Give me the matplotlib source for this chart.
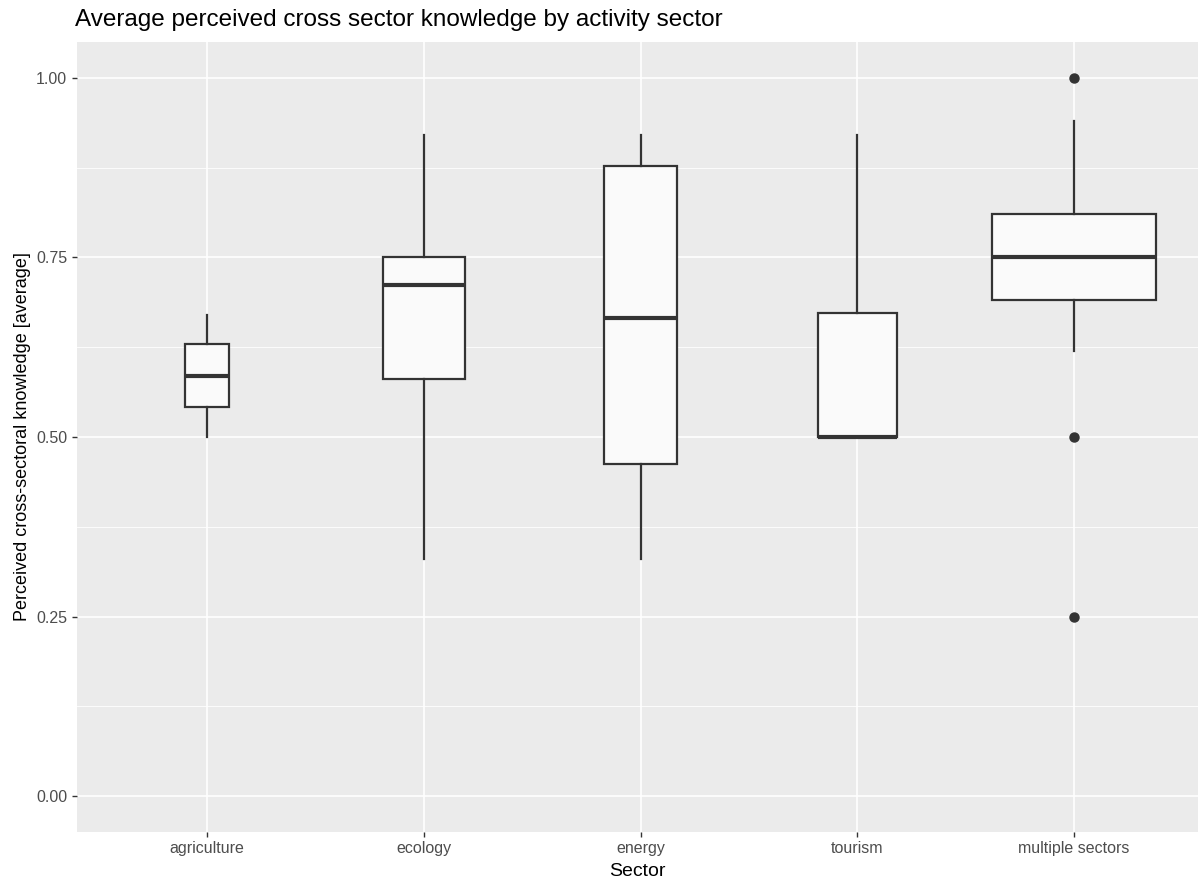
import matplotlib
matplotlib.use("Agg")
import matplotlib.pyplot as plt
from matplotlib.ticker import MultipleLocator

plt.rcParams['font.family'] = ['Liberation Sans', 'DejaVu Sans']

sectors = ["agriculture", "ecology", "energy", "tourism", "multiple sectors"]
q1 = [0.542, 0.581, 0.462, 0.500, 0.691]
med = [0.585, 0.711, 0.666, 0.500, 0.751]
q3 = [0.630, 0.751, 0.878, 0.672, 0.811]
whis_lo = [0.50, 0.33, 0.33, 0.50, 0.62]
whis_hi = [0.67, 0.92, 0.92, 0.92, 0.94]
outliers = [[], [], [], [], [1.00, 0.50, 0.25]]
box_widths = [0.203, 0.378, 0.336, 0.364, 0.756]

fig = plt.figure(figsize=(11.98, 8.81), dpi=100)
ax = fig.add_axes([77/1198, (881-832)/881, (1198-77)/1198, (832-42)/881])
ax.set_facecolor("#EBEBEB")

stats = []
for i, s in enumerate(sectors):
    stats.append(dict(label=s, q1=q1[i], med=med[i], q3=q3[i],
                      whislo=whis_lo[i], whishi=whis_hi[i], fliers=outliers[i]))

pos = list(range(1, len(sectors) + 1))
lc = "#333333"
ax.bxp(stats, positions=pos, widths=box_widths, patch_artist=True, showcaps=False,
       boxprops=dict(facecolor="#FAFAFA", edgecolor=lc, linewidth=1.6),
       medianprops=dict(color=lc, linewidth=3.0, solid_capstyle="butt"),
       whiskerprops=dict(color=lc, linewidth=1.6),
       flierprops=dict(marker="o", markerfacecolor=lc, markeredgecolor=lc, markersize=6.5),
       zorder=3)

ax.set_xlim(0.4, 5 + (1198 - 1074) / 217)
ax.set_ylim(-0.05, 1.05)
ax.set_xticks(pos)
ax.set_xticklabels(sectors)
ax.yaxis.set_major_locator(MultipleLocator(0.25))
ax.yaxis.set_minor_locator(MultipleLocator(0.125))
ax.set_yticks([0, 0.25, 0.5, 0.75, 1.0])
ax.set_yticklabels(["0.00", "0.25", "0.50", "0.75", "1.00"])

ax.grid(which="major", color="white", linewidth=1.2, zorder=0)
ax.grid(which="minor", axis="y", color="white", linewidth=0.6, zorder=0)
ax.set_axisbelow(True)
for sp in ax.spines.values():
    sp.set_visible(False)
ax.tick_params(axis="both", which="major", length=3.5, width=1.0, color=lc,
               labelcolor="#4D4D4D", labelsize=11.5)
ax.tick_params(axis="y", which="minor", length=0)
ax.tick_params(axis="x", pad=3)

ax.set_xlabel("Sector", fontsize=14, color="black", labelpad=5)
ax.set_ylabel("Perceived cross-sectoral knowledge [average]", fontsize=13, color="black", labelpad=4)
fig.text(75/1198, 1 - 20/881, "Average perceived cross sector knowledge by activity sector",
         fontsize=17.5, ha="left", va="center", color="black")

fig.savefig("out.png", dpi=100)
